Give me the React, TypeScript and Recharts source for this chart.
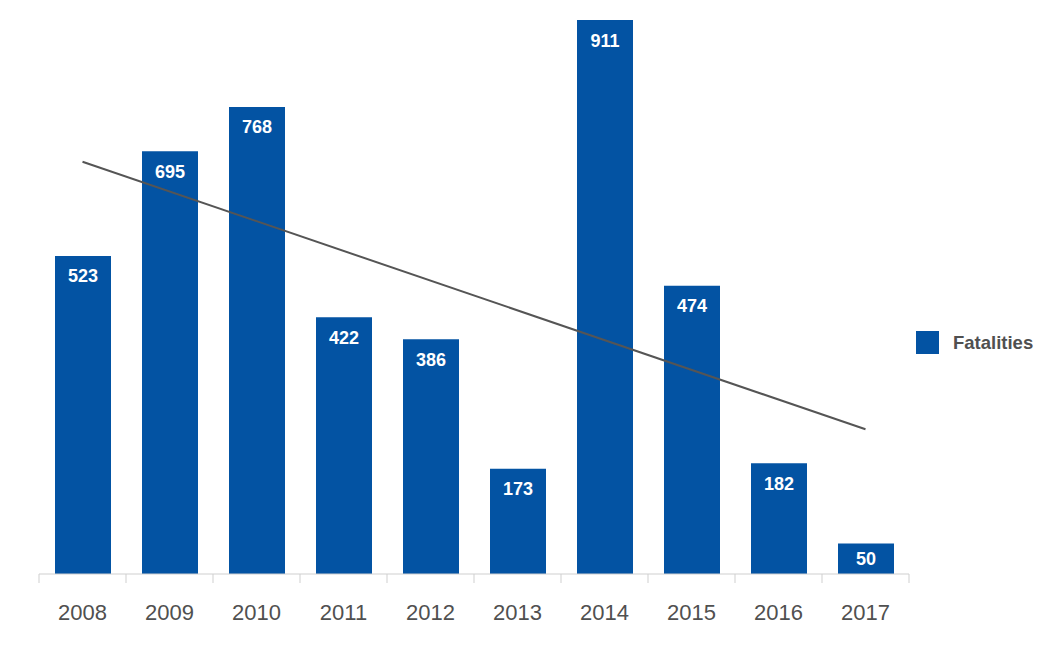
import React from 'react';
import { ComposedChart, Bar, Line, XAxis, YAxis, LabelList, Legend } from 'recharts';

const years = ['2008', '2009', '2010', '2011', '2012', '2013', '2014', '2015', '2016', '2017'];
const fatalities = [523, 695, 768, 422, 386, 173, 911, 474, 182, 50];
const trend: (number | null)[] = [678, null, null, null, null, null, null, null, null, 238];

const data = years.map((y, i) => ({ year: y, Fatalities: fatalities[i], trend: trend[i] }));

const BLUE = '#0353a3';
const BAND = 87;
const FONT = 'Liberation Sans, Arial, sans-serif';

const Tick = (props: any) => {
  const { x, y, payload, index } = props;
  const half = BAND / 2;
  const top = y - 8;
  return (
    <g>
      <line x1={x - half} y1={top} x2={x - half} y2={top + 9} stroke="#cfcfcf" strokeWidth={1} />
      {index === years.length - 1 && (
        <line x1={x + half} y1={top} x2={x + half} y2={top + 9} stroke="#cfcfcf" strokeWidth={1} />
      )}
      <text x={x} y={top + 46} textAnchor="middle" fill="#505050" fontSize={22} fontFamily={FONT}>
        {payload.value}
      </text>
    </g>
  );
};

const BarLabel = (props: any) => {
  const { x, y, width, height, value } = props;
  const dy = Math.min(20.5, height / 2);
  return (
    <text
      x={x + width / 2}
      y={y + dy}
      textAnchor="middle"
      dominantBaseline="central"
      fill="#ffffff"
      fontSize={18}
      fontWeight="bold"
      fontFamily={FONT}
    >
      {value}
    </text>
  );
};

const LegendContent = () => (
  <div style={{ display: 'flex', alignItems: 'center', fontFamily: FONT }}>
    <div style={{ width: 23, height: 23, background: BLUE, marginRight: 14 }} />
    <span style={{ fontSize: 18.5, fontWeight: 'bold', color: '#505050' }}>Fatalities</span>
  </div>
);

export default function App() {
  return (
    <ComposedChart
      width={1046}
      height={632}
      data={data}
      margin={{ top: 12, right: 145, bottom: 6, left: 31 }}
      barCategoryGap={0}
    >
      <XAxis
        dataKey="year"
        height={60}
        axisLine={{ stroke: '#cfcfcf' }}
        tickLine={false}
        tick={<Tick />}
        interval={0}
      />
      <YAxis hide domain={[0, 911]} />
      <Legend
        layout="horizontal"
        align="center"
        verticalAlign="middle"
        content={<LegendContent />}
        wrapperStyle={{ left: 908, top: 323, width: 140 }}
      />
      <Bar dataKey="Fatalities" fill={BLUE} barSize={56} isAnimationActive={false}>
        <LabelList dataKey="Fatalities" content={<BarLabel />} />
      </Bar>
      <Line
        dataKey="trend"
        stroke="#555555"
        strokeWidth={2}
        dot={false}
        activeDot={false}
        connectNulls
        isAnimationActive={false}
        legendType="none"
      />
    </ComposedChart>
  );
}
